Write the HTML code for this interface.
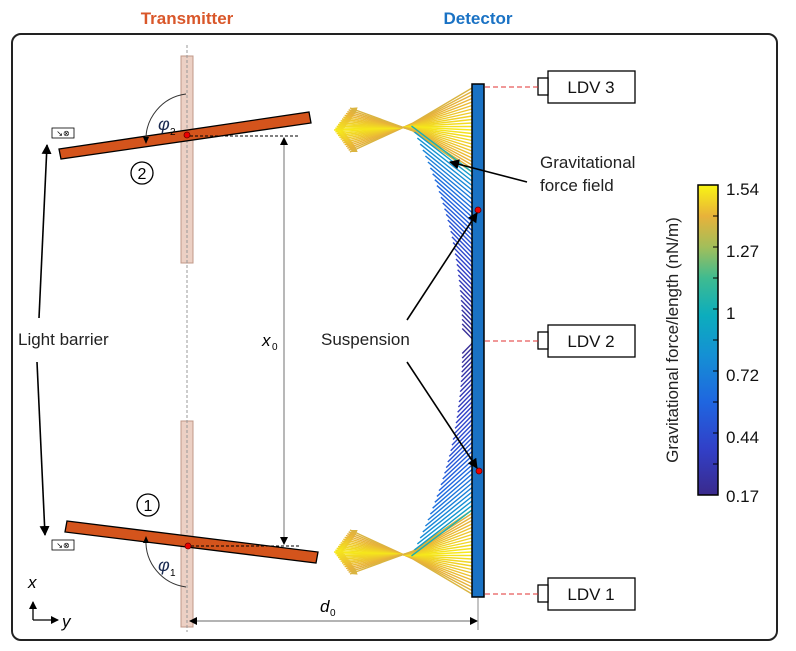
<!DOCTYPE html>
<html><head><meta charset="utf-8"><style>
html,body{margin:0;padding:0;background:#fff;}
svg{display:block;font-family:"Liberation Sans",sans-serif;}
</style></head><body>
<svg id="s" width="796" height="651" viewBox="0 0 796 651" xmlns="http://www.w3.org/2000/svg">
<defs>
<linearGradient id="cb" x1="0" y1="1" x2="0" y2="0">
<stop offset="0" stop-color="#3a2a8c"/><stop offset="0.15" stop-color="#3140c8"/>
<stop offset="0.3" stop-color="#1f66e0"/><stop offset="0.45" stop-color="#1590d4"/>
<stop offset="0.58" stop-color="#0cadbd"/><stop offset="0.7" stop-color="#3fbb90"/>
<stop offset="0.8" stop-color="#a2be5a"/><stop offset="0.9" stop-color="#e8b23a"/>
<stop offset="1" stop-color="#f9f513"/></linearGradient>
<marker id="ah" markerWidth="10" markerHeight="10" refX="9" refY="5" orient="auto" markerUnits="userSpaceOnUse"><path d="M0,0 L10,5 L0,10 z" fill="#000"/></marker>
<marker id="ahs" markerWidth="8" markerHeight="8" refX="7" refY="4" orient="auto" markerUnits="userSpaceOnUse"><path d="M0,0 L8,4 L0,8 z" fill="#000"/></marker>
<marker id="ahs2" markerWidth="8" markerHeight="8" refX="1" refY="4" orient="auto" markerUnits="userSpaceOnUse"><path d="M8,0 L0,4 L8,8 z" fill="#000"/></marker>
</defs>
<text x="187" y="24" text-anchor="middle" font-size="17" font-weight="bold" fill="#d9572a">Transmitter</text>
<text x="478" y="24" text-anchor="middle" font-size="17" font-weight="bold" fill="#1a72c4">Detector</text>
<rect x="12" y="34" width="765" height="606" rx="9" fill="none" stroke="#222" stroke-width="2"/>

<g id="field"></g>

<rect x="181" y="56" width="12" height="207" fill="#ecd0c4" stroke="#c09888" stroke-width="1"/>
<rect x="181" y="421" width="12" height="206" fill="#ecd0c4" stroke="#c09888" stroke-width="1"/>
<line x1="187" y1="45" x2="187" y2="632" stroke="#999" stroke-width="1" stroke-dasharray="3,2"/>

<polygon points="59,149 309,112 311,123 61,159" fill="#d4541c" stroke="#000" stroke-width="1.3"/>
<polygon points="67,521 318,552 316,563 65,532" fill="#d4541c" stroke="#000" stroke-width="1.3"/>
<circle cx="187" cy="135" r="3" fill="#e00" stroke="#600" stroke-width="0.8"/>
<circle cx="188" cy="546" r="3" fill="#e00" stroke="#600" stroke-width="0.8"/>
<line x1="190" y1="136" x2="300" y2="136" stroke="#000" stroke-dasharray="3,2"/>
<line x1="191" y1="546" x2="300" y2="546" stroke="#000" stroke-dasharray="3,2"/>
<line x1="284" y1="138" x2="284" y2="544" stroke="#888" stroke-width="1.2" marker-start="url(#ahs2)" marker-end="url(#ahs)"/>
<text x="262" y="346" font-size="17" font-style="italic">x</text><text x="272" y="350" font-size="10">0</text>

<path d="M186,94 A46,46 0 0 0 146,142" fill="none" stroke="#333" stroke-width="1"/>
<path d="M146,144 l-3,-7 h6 z" fill="#000"/>
<text x="158" y="130" font-size="18" font-style="italic" fill="#1a2a50">φ</text><text x="170" y="135" font-size="10">2</text>
<path d="M186,587 A46,46 0 0 1 146,539" fill="none" stroke="#333" stroke-width="1"/>
<path d="M146,536 l-3,7 h6 z" fill="#000"/>
<text x="158" y="571" font-size="18" font-style="italic" fill="#1a2a50">φ</text><text x="170" y="576" font-size="10">1</text>

<circle cx="142" cy="173" r="11" fill="#fff" stroke="#000" stroke-width="1.3"/>
<text x="142" y="179" text-anchor="middle" font-size="16">2</text>
<circle cx="148" cy="505" r="11" fill="#fff" stroke="#000" stroke-width="1.3"/>
<text x="148" y="511" text-anchor="middle" font-size="16">1</text>

<rect x="52" y="128" width="22" height="10" fill="#fff" stroke="#000" stroke-width="0.8"/>
<text x="63" y="136" text-anchor="middle" font-size="8">↘⊗</text>
<rect x="52" y="540" width="22" height="10" fill="#fff" stroke="#000" stroke-width="0.8"/>
<text x="63" y="548" text-anchor="middle" font-size="8">↘⊗</text>
<text x="18" y="345" font-size="17" fill="#222">Light barrier</text>
<line x1="39" y1="318" x2="47" y2="145" stroke="#000" stroke-width="1.6" marker-end="url(#ah)"/>
<line x1="37" y1="362" x2="45" y2="535" stroke="#000" stroke-width="1.6" marker-end="url(#ah)"/>

<rect x="472" y="84" width="12" height="513" fill="#1a72c4" stroke="#000" stroke-width="1.5"/>
<circle cx="478" cy="210" r="3" fill="#e00" stroke="#600" stroke-width="0.8"/>
<circle cx="479" cy="471" r="3" fill="#e00" stroke="#600" stroke-width="0.8"/>

<g stroke="#000" stroke-width="1.3" fill="#fff">
<rect x="548" y="71" width="87" height="32"/><rect x="538" y="78" width="10" height="17"/>
<rect x="548" y="325" width="87" height="32"/><rect x="538" y="332" width="10" height="17"/>
<rect x="548" y="578" width="87" height="32"/><rect x="538" y="585" width="10" height="17"/>
</g>
<g stroke="#e03030" stroke-width="1" stroke-dasharray="5,3">
<line x1="485" y1="87" x2="538" y2="87"/><line x1="485" y1="341" x2="538" y2="341"/><line x1="485" y1="594" x2="538" y2="594"/>
</g>
<g font-size="17" fill="#111" text-anchor="middle">
<text x="591" y="93">LDV 3</text><text x="591" y="347">LDV 2</text><text x="591" y="600">LDV 1</text>
</g>

<text x="540" y="168" font-size="17" fill="#222">Gravitational</text>
<text x="540" y="191" font-size="17" fill="#222">force field</text>
<line x1="527" y1="182" x2="450" y2="162" stroke="#000" stroke-width="1.6" marker-end="url(#ah)"/>
<text x="321" y="345" font-size="17" fill="#222">Suspension</text>
<line x1="407" y1="320" x2="477" y2="213" stroke="#000" stroke-width="1.6" marker-end="url(#ah)"/>
<line x1="407" y1="362" x2="477" y2="468" stroke="#000" stroke-width="1.6" marker-end="url(#ah)"/>

<line x1="33" y1="620" x2="33" y2="602" stroke="#000" stroke-width="1.3" marker-end="url(#ahs)"/>
<line x1="33" y1="620" x2="58" y2="620" stroke="#000" stroke-width="1.3" marker-end="url(#ahs)"/>
<text x="28" y="588" font-size="17" font-style="italic">x</text>
<text x="62" y="627" font-size="17" font-style="italic">y</text>

<line x1="190" y1="621" x2="477" y2="621" stroke="#888" stroke-width="1.2" marker-start="url(#ahs2)" marker-end="url(#ahs)"/>
<line x1="478" y1="598" x2="478" y2="630" stroke="#888" stroke-width="1"/>
<text x="320" y="612" font-size="17" font-style="italic">d</text><text x="330" y="616" font-size="10">0</text>

<rect x="698" y="185" width="20" height="310" fill="url(#cb)" stroke="#000" stroke-width="1.5"/>
<g stroke="#000" stroke-width="1">
<line x1="713" y1="216" x2="718" y2="216"/><line x1="713" y1="247" x2="718" y2="247"/><line x1="713" y1="278" x2="718" y2="278"/>
<line x1="713" y1="309" x2="718" y2="309"/><line x1="713" y1="340" x2="718" y2="340"/><line x1="713" y1="371" x2="718" y2="371"/>
<line x1="713" y1="402" x2="718" y2="402"/><line x1="713" y1="433" x2="718" y2="433"/><line x1="713" y1="464" x2="718" y2="464"/>
</g>
<g font-size="17" fill="#111">
<text x="726" y="195">1.54</text><text x="726" y="257">1.27</text><text x="726" y="319">1</text>
<text x="726" y="381">0.72</text><text x="726" y="443">0.44</text><text x="726" y="502">0.17</text>
</g>
<text transform="translate(678,340) rotate(-90)" text-anchor="middle" font-size="17" fill="#222">Gravitational force/length (nN/m)</text>
</svg>
<script>
(function(){
var g=document.getElementById('field');var NS='http://www.w3.org/2000/svg';
var stops=[[0,[58,42,140]],[0.15,[49,64,200]],[0.3,[31,102,224]],[0.45,[21,144,212]],[0.58,[12,173,189]],[0.7,[63,187,144]],[0.8,[162,190,90]],[0.9,[232,178,58]],[1,[249,245,19]]];
function col(t){t=Math.max(0,Math.min(1,t));for(var i=1;i<stops.length;i++){if(t<=stops[i][0]){var a=stops[i-1],b=stops[i],f=(t-a[0])/(b[0]-a[0]);var c=[0,1,2].map(function(k){return Math.round(a[1][k]+(b[1][k]-a[1][k])*f)});return 'rgb('+c.join(',')+')';}}return 'rgb(249,245,19)';}
function poly(pts,c,head){var l=document.createElementNS(NS,'polyline');l.setAttribute('points',pts.map(function(p){return p[0]+','+p[1]}).join(' '));l.setAttribute('stroke',c);l.setAttribute('fill','none');l.setAttribute('stroke-width','1.4');g.appendChild(l);
if(head){var n=pts.length,x1=pts[n-2][0],y1=pts[n-2][1],x2=pts[n-1][0],y2=pts[n-1][1];var dx=x2-x1,dy=y2-y1,L=Math.hypot(dx,dy);dx/=L;dy/=L;var px=-dy,py=dx;var p=document.createElementNS(NS,'polygon');var bx=x2-dx*7,by=y2-dy*7;p.setAttribute('points',x2+','+y2+' '+(bx+px*3.2)+','+(by+py*3.2)+' '+(bx-px*3.2)+','+(by-py*3.2));p.setAttribute('fill',c);g.appendChild(p);}}
function draw(mir){
function Y(y){return mir?682-y:y;}
var X0=472;
for(var p=88;p<=172;p+=3.5){var t=(p-88)/84;
var wy=127+(t-0.5)*8;
var ey=152-t*44;var ex=334+16*Math.abs(t-0.5)*2;
var c=col(0.98-0.1*Math.abs(t-0.5)*2);
poly([[X0,Y(p)],[413,Y(wy)],[ex,Y(ey)]],c,true);}
for(var p=172;p<=339;p+=4.5){var t=(p-172)/167;
var ang=0.65+0.15*Math.min(1,t*2);
var bx=-Math.cos(ang),by=-Math.sin(ang);
var len=14+62*Math.pow(1-t,2.0);
poly([[X0,Y(p)],[X0+bx*len,Y(p+by*len)]],col(0.6-0.57*Math.pow(t,0.5)),false);}
}
draw(false);draw(true);
})();
</script>
</body></html>
